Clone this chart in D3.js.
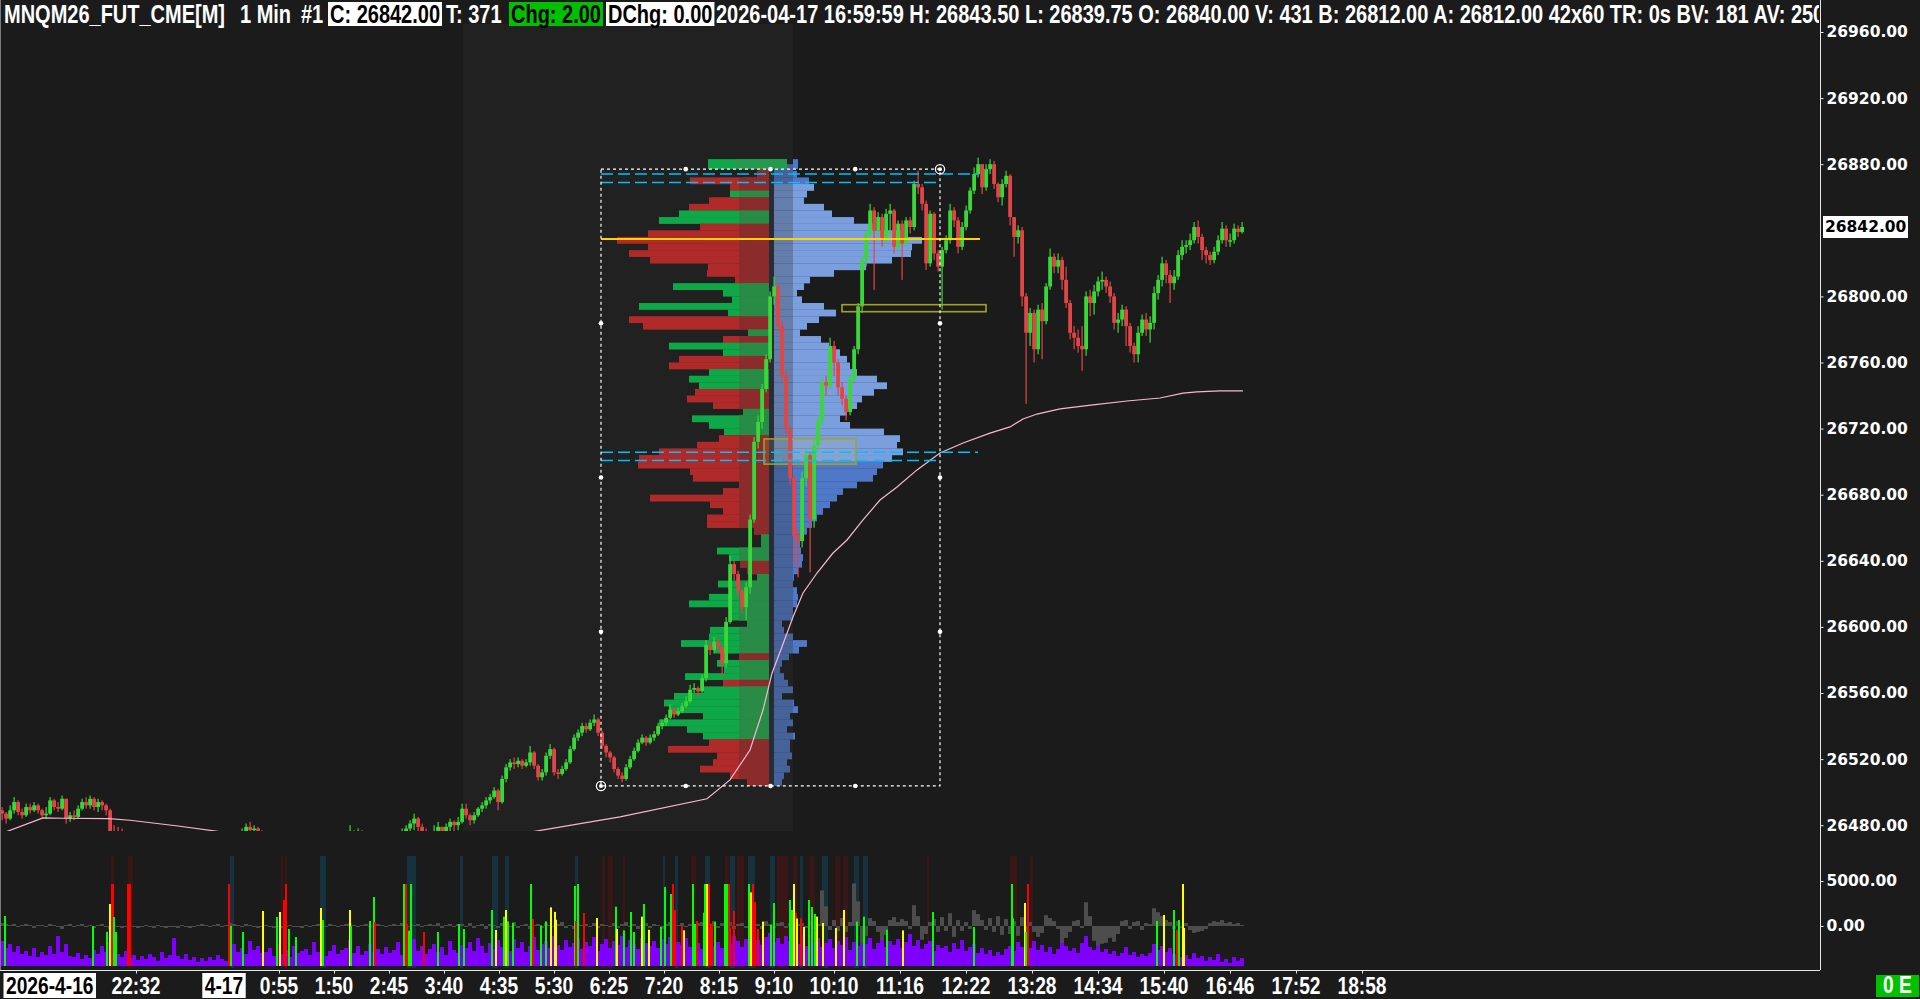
<!DOCTYPE html>
<html><head><meta charset="utf-8"><title>MNQM26_FUT_CME 1 Min</title>
<script src="https://cdn.jsdelivr.net/npm/d3@7/dist/d3.min.js"></script>
<style>html,body{margin:0;padding:0;background:#1b1b1b;overflow:hidden}svg{display:block}</style>
</head><body><svg id="chart" width="1920" height="999"></svg>
<script>
// ================= DATA =================
const headerFields = ["MNQM26_FUT_CME[M]", "1 Min", "#1", "C: 26842.00", "T: 371", "Chg: 2.00", "DChg: 0.00",
  "2026-04-17 16:59:59 H: 26843.50 L: 26839.75 O: 26840.00 V: 431 B: 26812.00 A: 26812.00 42x60 TR: 0s BV: 181 AV: 250"];
const lastPrice = 26842;

const priceTicks = [26480, 26520, 26560, 26600, 26640, 26680, 26720, 26760, 26800, 26880, 26920, 26960];
const oscTicks = [0, 5000];
const timeTickMinutes = [-88, 55, 110, 165, 220, 275, 330, 385, 440, 495, 550, 610, 676, 742, 808, 874, 940, 1006, 1072, 1138];
const timeTickLabels = ["22:32","0:55","1:50","2:45","3:40","4:35","5:30","6:25","7:20","8:15","9:10","10:10","11:16","12:22","13:28","14:34","15:40","16:46","17:52","18:58"];
const dateMarkers = [{t: -224, label: "2026-4-16", start: true}, {t: 0, label: "4-17", start: false}];

// 4-minute bars, first bar starts 224 minutes before 2026-04-17 00:00
const barStartMin = -224, barMinutes = 4, firstOpen = 26489;
const barClose = [
26487,26484,26489,26494,26488,26486,26491,26489,26492,26489,26486,26487,26495,26491,26490,26496,26484,26486,26485,26490,26494,26492,26496,26491,26494,26492,26489,26476,26474,
26472,26470,26466,26463,26461,26464,26466,26462,26460,26458,
26461,26463,26460,26457,26455,26458,26462,26465,26463,26466,
26468,26465,26467,26470,26468,26466,26469,26471,26470,26472,
26473,26476,26479,26477,26478,26474,26471,26468,26466,26463,
26460,26457,26455,26452,26454,26456,26453,26455,26458,26460,
26462,26459,26463,26465,26467,26469,26471,26473,26476,26472,
26475,26473,26470,26468,26466,26468,26470,26469,26471,26472,
26474,26476,26478,26481,26484,26479,26476,26473,26471,26476,
26479,26475,26479,26482,26480,26482,
26490,26486,26483,26486,26490,26492,26495,26497,26501,26494,
26508,26515,26518,26517,26519,26516,26518,26524,26516,26509,
26512,26522,26526,26512,26511,26514,26518,26526,26533,26536,
26540,26538,26542,26544,26536,26528,26524,26521,26514,26510,
26508,26515,26520,26525,26530,26533,26530,26533,26535,26540,
26542,26545,26550,26547,26549,26552,26555,26562,26563,26561,
26569,26589,26586,26591,26588,26578,26603,26638,26632,26622,
26612,26624,26665,26712,26724,26744,26762,26800,26806,26782,
26752,26720,26690,26655,26652,26690,26704,26665,26710,26725,
26748,26746,26770,26760,26745,26738,26730,26750,26768,26794,
26822,26838,26852,26840,26848,26834,26850,26852,26830,26844,
26832,26846,26842,26868,26866,26856,26820,26850,26826,26818,
26828,26834,26852,26846,26830,26842,26852,26864,26874,26880,
26866,26877,26880,26868,26860,26868,26873,26848,26836,26840,
26800,26778,26790,26768,26792,26785,26806,26824,26818,26822,
26810,26796,26778,26775,26770,26768,26800,26796,26803,26809,
26810,26806,26800,26784,26786,26792,26782,26770,26765,26778,
26786,26780,26784,26802,26810,26820,26813,26808,26812,26825,
26830,26831,26834,26842,26836,26828,26825,26822,26827,26834,
26841,26834,26834,26841,26839,26842];
const barHigh = [
26491,26488,26492,26497,26495,26490,26493,26493,26494,26493,26490,26491,26497,26496,26494,26498,26496,26488,26489,26492,26496,26497,26498,26497,26496,26495,26493,26490,26480,
26479,26478,26472,26469,26466,26467,26469,26468,26465,26463,
26464,26467,26465,26462,26459,26461,26465,26468,26468,26469,
26471,26470,26470,26472,26472,26470,26472,26474,26473,26474,
26475,26478,26481,26482,26480,26479,26477,26473,26470,26468,
26465,26462,26460,26457,26458,26459,26458,26458,26461,26463,
26465,26464,26466,26468,26470,26472,26474,26475,26480,26477,
26478,26477,26474,26472,26470,26471,26473,26473,26474,26475,
26476,26478,26480,26483,26487,26485,26481,26478,26475,26480,
26482,26479,26481,26484,26483,26485,
26493,26493,26487,26488,26491,26494,26497,26499,26503,26502,
26510,26517,26520,26521,26521,26520,26520,26528,26525,26517,
26514,26524,26529,26527,26514,26516,26520,26528,26535,26538,
26542,26542,26544,26547,26545,26537,26529,26525,26522,26515,
26512,26517,26522,26527,26532,26535,26534,26535,26537,26542,
26544,26547,26553,26551,26551,26554,26558,26565,26566,26564,
26571,26592,26591,26594,26593,26589,26606,26643,26640,26634,
26623,26627,26668,26715,26728,26747,26765,26803,26812,26808,
26785,26755,26722,26692,26660,26694,26708,26706,26714,26728,
26751,26752,26775,26773,26762,26748,26740,26753,26770,26796,
26825,26840,26856,26854,26851,26850,26853,26856,26853,26846,
26846,26848,26848,26870,26876,26868,26858,26852,26851,26828,
26830,26837,26856,26854,26848,26845,26855,26866,26878,26884,
26880,26880,26883,26882,26869,26871,26876,26874,26848,26843,
26842,26802,26793,26792,26795,26796,26808,26829,26826,26826,
26824,26818,26798,26782,26780,26782,26803,26804,26807,26812,
26815,26812,26809,26802,26790,26795,26794,26784,26772,26782,
26789,26790,26788,26806,26813,26824,26822,26816,26816,26828,
26834,26834,26838,26845,26846,26838,26830,26827,26830,26837,
26845,26843,26838,26844,26843,26845];
const barLow = [
26483,26481,26483,26487,26486,26484,26485,26487,26488,26487,26484,26484,26486,26489,26488,26489,26481,26482,26483,26484,26489,26490,26490,26489,26488,26489,26486,26470,26468,
26466,26465,26462,26459,26457,26458,26461,26459,26456,26454,
26455,26458,26457,26453,26451,26452,26456,26460,26460,26461,
26463,26462,26463,26464,26465,26463,26464,26466,26467,26468,
26469,26471,26473,26474,26473,26470,26468,26465,26462,26460,
26456,26453,26451,26448,26449,26451,26450,26450,26453,26456,
26458,26456,26458,26461,26463,26465,26467,26469,26471,26469,
26470,26469,26466,26464,26462,26464,26466,26465,26467,26468,
26470,26471,26473,26475,26477,26475,26472,26469,26467,26470,
26473,26471,26474,26476,26476,26477,
26481,26484,26480,26481,26485,26488,26490,26493,26496,26489,
26493,26506,26513,26514,26515,26514,26515,26516,26514,26507,
26507,26510,26520,26510,26508,26510,26513,26517,26525,26531,
26534,26536,26537,26540,26534,26526,26521,26518,26512,26508,
26506,26507,26514,26519,26524,26529,26528,26529,26531,26534,
26538,26540,26544,26545,26546,26548,26551,26554,26560,26558,
26560,26567,26583,26584,26585,26570,26575,26602,26628,26618,
26608,26604,26620,26663,26708,26720,26742,26760,26795,26778,
26748,26716,26686,26638,26630,26648,26685,26633,26660,26706,
26722,26740,26744,26752,26740,26734,26725,26728,26748,26765,
26790,26818,26836,26804,26836,26830,26832,26836,26826,26828,
26810,26830,26838,26840,26862,26852,26816,26818,26822,26815,
26792,26826,26832,26842,26826,26828,26840,26850,26862,26872,
26862,26864,26874,26865,26857,26855,26866,26843,26824,26832,
26794,26735,26770,26760,26765,26762,26783,26804,26814,26814,
26804,26793,26774,26768,26766,26755,26764,26788,26789,26800,
26804,26802,26796,26780,26778,26782,26770,26766,26760,26760,
26776,26776,26772,26780,26798,26806,26808,26796,26804,26810,
26822,26826,26828,26832,26832,26822,26820,26819,26820,26825,
26832,26830,26830,26832,26836,26838];

// Per-bar volume (4-minute buckets) and the grey delta oscillator
const barVolume = [
2000,1440,1760,1120,1600,960,1200,800,1440,720,1120,880,1600,960,2400,1120,1760,800,720,1040,560,880,640,1280,960,1600,1120,1920,1440,
960,720,1200,640,880,480,800,560,960,720,400,1120,640,880,2240,800,560,960,480,720,320,640,400,720,480,880,560,400,640,
1760,1120,1440,960,2000,1280,1600,1040,
1120,1440,800,1760,960,1280,720,1600,1040,1200,
1360,880,1920,1120,1520,800,1200,1680,960,1280,
1440,2080,1040,1600,880,1200,1760,1120,1360,960,
1520,1040,1280,1920,880,1440,1120,2160,1200,1600,
960,1360,1760,1120,1520,880,2000,1280,1040,1680,
1440,1920,1200,2240,1600,1040,1840,1360,2080,1520,
1760,1200,2160,1440,1920,1120,1600,2320,1280,1760,
2000,1440,2400,1680,1280,2080,1520,1840,2240,1360,
1920,1600,2320,1200,1760,2160,1440,2000,1680,2400,
1520,2080,1760,1360,2240,1840,1600,2000,1440,2160,
1760,2320,1280,1920,1680,2240,1520,2000,1840,1360,
2080,2480,1600,1920,1440,2240,1760,2400,2000,1520,
2160,1840,2560,2080,1680,2320,2640,1920,2240,1760,
2400,2000,2160,1760,2480,1600,2080,1920,2240,1520,
1840,2160,1440,2000,1680,2320,1280,1920,1600,2080,
1760,2240,1360,1840,2400,1520,2000,1680,2160,1440,
1920,2560,1600,2080,1360,1760,2000,1200,1680,1440,
1600,1120,1840,1360,2080,1200,1520,1760,1040,1440,
960,1280,800,1120,880,1360,1600,1200,1920,1520,
1760,1440,2000,1280,1680,1120,1520,960,1360,2160,
1600,1200,1440,1040,1840,2400,1520,1280,1680,1120,
1360,960,1200,800,1040,1520,880,1120,720,960,
800,1040,1760,1280,1600,1120,1440,960,1200,720,
880,560,1040,640,800,400,720,480,960,320,
560,240,720,400,640];
const barDelta = [
330,220,110,220,-110,110,220,110,-220,110,110,-110,220,110,-110,-330,110,220,-110,110,220,-110,110,-220,110,220,-110,-330,110,
-110,-220,-110,110,-110,-220,-110,110,-110,-220,
110,-110,-220,-110,-110,-220,110,-110,-220,-110,
110,220,110,-110,110,220,-110,110,330,220,
110,-110,220,110,-110,-220,-110,110,-110,-220,
-110,-220,-110,110,-110,-110,-220,110,-110,110,
220,110,-110,220,110,-110,110,220,330,110,
-110,110,220,-110,110,220,110,-110,110,220,
110,330,220,-110,110,220,-110,110,220,110,
330,-220,110,220,-110,220,
220,-110,330,-220,110,220,-330,220,110,-220,
330,220,-110,440,-220,110,220,-330,110,220,
-220,330,110,-110,220,440,-220,110,-330,220,
110,220,-110,330,-220,220,110,-110,330,-220,
220,440,-110,220,-330,110,330,-220,220,110,
-330,220,440,-220,110,330,-110,220,-220,330,
440,-330,220,550,-220,330,-110,440,-330,220,
330,-220,440,-110,220,-330,550,220,-220,330,
440,-220,330,-110,220,
330,-220,550,-330,220,3960,2200,-440,660,-550,880,-660,440,4730,2750,-1870,-1100,880,550,-660,
-1540,-990,660,990,440,770,550,-330,2310,1100,-1540,-880,440,770,-660,990,-550,1430,-1210,660,
-550,440,-330,1760,1320,660,-440,880,-660,1100,-990,770,-880,550,-1100,990,-770,440,-660,-1210,
-770,1210,880,550,-330,-1870,-1320,-660,550,660,-220,2640,1100,-1650,-2200,-1980,-1870,-1320,-1760,-880,
550,660,-330,440,550,-440,330,220,1980,1540,1100,660,440,-330,550,-220,330,-440,-770,-660,
-550,-330,330,550,440,660,330,440,220,330,110];

// Large-trade highlight spikes: minute, volume, kind (r/y/g)
const spikeTimes = [-220,-132,-118,-115,-113,-112,-111,-109,-97,-95,4,6,18,38,52,55,59,61,64,71,96,98,125,126,145,149,150,179,181,182,184,186,199,213,234,239,267,271,279,281,283,288,306,308,316,321,326,330,331,350,351,353,359,372,391,392,399,406,409,417,419,424,436,440,446,448,450,457,459,468,470,472,479,480,482,484,485,487,490,500,502,504,505,509,524,526,528,530,533,538,546,549,565,567,569,571,572,576,579,584,587,590,592,598,611,619,632,639,662,678,708,749,787,788,800,801,803,932,939,949,952,954,958,959];
const spikeValues = [4000,3200,2740,4960,6560,6560,3920,2720,6560,6560,6560,3200,2720,4400,3920,4320,5280,6560,2960,2320,4640,3680,4480,3200,3600,5520,3520,6560,6560,3360,2820,6560,2720,2720,3360,2960,4480,2880,3950,4480,3570,3440,6560,3760,3250,3570,4690,4330,3700,6400,3600,6560,4240,3840,4750,2960,2850,4320,2720,3950,4960,2900,3120,6320,5760,6560,4480,3200,2850,6560,3360,3600,4270,6560,6560,6560,3390,3390,3530,6560,6560,6560,3060,4400,6560,5890,6560,5120,2960,3550,3300,5040,5280,4480,6560,4260,3800,3820,3130,5280,4720,4160,3950,3440,3040,4480,3550,3950,2900,2850,4320,3120,6560,3820,5040,2720,6560,3600,4080,4480,2900,3680,6560,3040];
const spikeKinds = "gggyrrggrrrggygyrrggygygggrgrrggrggggygygggrggyyygrgrygygggygygggrrryggrggyrrrgggrrrgyrrryggggyryrygggyyyygggyggggygrgygrgyyggrg";

// Background highlight columns in the lower pane: [start minute, end minute]
const tealColumns = [[6,9],[96,101],[183,191],[236,238],[268,273],[281,284],[351,353],[439,440],[451,453],[481,485],[506,510],[524,530],[546,550],[576,578],[598,603],[630,634],[639,643]];
const redColumns = [[-113,-111],[-96,-92],[57,58],[61,62],[378,380],[384,388],[399,400],[467,471],[501,504],[513,519],[553,563],[569,572],[585,590],[611,615],[619,623],[703,704],[786,792],[806,808]];

// Session VWAP: [minute, price]
const vwapMinutes = [-218,-181,-161,-115,-94,-46,-3,76,196,276,308,396,483,506,526,539,548,558,569,579,593,609,623,639,656,673,693,716,739,766,786,799,813,836,869,903,936,959,973,996,1019];
const vwapPrices = [26476,26484.4,26484.2,26484,26483,26479.5,26476,26473,26472,26473.5,26476,26485,26496,26507.4,26525.5,26549.7,26572,26588,26606,26620.5,26632.6,26644.7,26652.6,26664.7,26676.8,26684.7,26695,26705.2,26711.3,26717.3,26721,26725.8,26728.8,26731.9,26734.3,26736.7,26738.5,26741.5,26742.2,26742.8,26742.8];

// Volume profile of the selected range (rows of 4 points, top row = 26876-26880)
const profileTopPrice = 26880, profileRowSize = 4;
const profileDelta = [-100,-120,-790,-390,390,-600,-800,900,1100,-690,-1210,-1520,-1210,-1400,-1190,-610,-620,-340,960,460,370,1300,410,-1400,-1260,210,-460,1000,460,-900,-1000,600,800,700,-740,-820,-560,260,770,600,450,-500,-720,-1100,-1300,-1310,-790,-760,-300,-460,-1190,-590,-460,-620,-620,-150,80,80,520,400,-290,-220,120,510,390,600,800,390,390,220,590,600,880,550,-300,520,450,840,-460,650,950,1050,1000,660,1100,820,660,-600,-1010,-520,-560,-690,-390,-220];
const profileVolume = [190,230,350,400,330,300,500,580,800,1000,1300,1480,1380,1370,1180,920,600,360,300,230,280,500,620,450,330,260,470,550,660,730,760,830,1030,1130,1000,880,830,730,660,760,1100,1260,1230,1290,1180,1090,1030,990,830,690,630,560,490,430,380,330,290,260,270,290,280,240,200,190,230,240,230,190,190,80,100,190,330,250,150,80,60,100,140,190,80,200,240,160,190,130,210,160,160,180,130,160,100,80];
const profileSummaryDelta = 790, profileSummaryVolume = 50;
const profileSplitMin = 545;
const rangeStartMin = 377, rangeEndMin = 716, rangeHigh = 26877, rangeLow = 26503.75;
const pocPrice = 26834.75, pocEndMin = 756;
const valueAreaHigh = 26869, valueAreaLow = 26701;
const valueAreaLines = [{price: 26874, end: 754}, {price: 26869, end: 716}, {price: 26705.75, end: 754}, {price: 26700.75, end: 716}];
const zones = [{t0: 618, t1: 762, lo: 26790.75, hi: 26795, fill: "none"}, {t0: 540, t1: 632, lo: 26698.5, hi: 26713.75, fill: "rgba(210,210,150,0.13)"}];
const shadedSpan = [239, 569]; // minutes of the lighter shaded session block

// ================= DRAWING =================
const svg = d3.select("#chart");
const FONT_N = "'Liberation Sans', Arial, sans-serif";
const FONT_AX = "'DejaVu Sans', Verdana, sans-serif";
const NARROW = 0.8;
const xTime = d3.scaleLinear().domain([-224, 1596]).range([0, 1820]);
const yPrice = d3.scaleLinear().domain([26480, 26960]).range([825.2, 32]);
const yVol = d3.scaleLinear().domain([0, 7000]).range([966, 878.5]);
const yOsc = d3.scaleLinear().domain([0, 5000]).range([926, 881]);
const profLen = d3.scaleLinear().domain([0, 1000]).range([0, 100]);
const PANE_TOP = 24, PANE_BOT = 831, LOW_TOP = 856, LOW_BOT = 968;

svg.append("rect").attr("width", 1920).attr("height", 999).attr("fill", "#1b1b1b");
const defs = svg.append("defs");
defs.append("clipPath").attr("id", "cpPrice").append("rect").attr("x", 0).attr("y", PANE_TOP).attr("width", 1820).attr("height", PANE_BOT - PANE_TOP);
defs.append("clipPath").attr("id", "cpLow").append("rect").attr("x", 0).attr("y", 840).attr("width", 1820).attr("height", 130);
defs.append("clipPath").attr("id", "cpHead").append("rect").attr("x", 0).attr("y", 0).attr("width", 1819).attr("height", 40);
defs.append("clipPath").attr("id", "cpYAx").append("rect").attr("x", 1820).attr("y", 0).attr("width", 100).attr("height", PANE_BOT);

// narrow bold text helper (condensed look)
function narrowText(parent, str, x, y, size, fill, anchor) {
  const g = parent.append("g").attr("transform", `translate(${x},${y}) scale(${NARROW},1)`);
  const t = g.append("text").text(str).attr("font-family", FONT_N).attr("font-size", size)
    .attr("font-weight", "bold").attr("fill", fill).attr("text-anchor", anchor || "start");
  return {g, w: t.node().getComputedTextLength() * NARROW};
}

const gP = svg.append("g").attr("clip-path", "url(#cpPrice)");

// ---- volume profile ----
const splitX = xTime(profileSplitMin), volX = xTime(profileSplitMin + 5);
const rows = profileDelta.map((d, i) => {
  const hi = profileTopPrice - i * profileRowSize, lo = hi - profileRowSize;
  return {hi, lo, d, v: profileVolume[i], y0: yPrice(hi), y1: yPrice(lo)};
});
gP.append("rect").attr("x", splitX).attr("width", volX - splitX)
  .attr("y", yPrice(rangeHigh)).attr("height", yPrice(rangeLow) - yPrice(rangeHigh)).attr("fill", "#242a38");
gP.selectAll("rect.vp").data(rows).enter().append("rect").attr("class", "vp")
  .attr("x", volX).attr("y", r => r.y0).attr("height", r => r.y1 - r.y0 + 0.2)
  .attr("width", r => profLen(r.v))
  .attr("fill", r => ((r.hi + r.lo) / 2 <= valueAreaHigh && (r.hi + r.lo) / 2 >= valueAreaLow) ? "#7a9ede" : "#5078c8");
gP.selectAll("rect.dp").data(rows).enter().append("rect").attr("class", "dp")
  .attr("x", r => splitX - profLen(Math.abs(r.d))).attr("y", r => r.y0).attr("height", r => r.y1 - r.y0 + 0.2)
  .attr("width", r => profLen(Math.abs(r.d)))
  .attr("fill", r => r.d >= 0 ? "#01db54" : "#e92727");
gP.selectAll("rect.dpi").data(rows).enter().append("rect").attr("class", "dpi")
  .attr("x", r => splitX - Math.min(profLen(Math.abs(r.d)), 30)).attr("y", r => r.y0).attr("height", r => r.y1 - r.y0 + 0.2)
  .attr("width", r => Math.min(profLen(Math.abs(r.d)), 30))
  .attr("fill", r => r.d >= 0 ? "#24b34f" : "#b32929");
// summary bars above the range
const sumY = yPrice(rangeHigh);
gP.append("rect").attr("x", splitX + 18 - profLen(profileSummaryDelta)).attr("y", sumY - 10).attr("width", profLen(profileSummaryDelta)).attr("height", 10).attr("fill", "#01db54");
gP.append("rect").attr("x", splitX + 18 - profLen(profileSummaryDelta) + 27).attr("y", sumY - 10).attr("width", profLen(profileSummaryDelta) - 27).attr("height", 10).attr("fill", "#1ec75a");
gP.append("rect").attr("x", volX + 19).attr("y", sumY - 10).attr("width", profLen(profileSummaryVolume)).attr("height", 10).attr("fill", "#5078c8");

// lighter shaded session block (overlay)
gP.append("rect").attr("x", xTime(shadedSpan[0])).attr("width", xTime(shadedSpan[1]) - xTime(shadedSpan[0]))
  .attr("y", PANE_TOP).attr("height", PANE_BOT - PANE_TOP).attr("fill", "rgba(50,50,50,0.3)");

// zone 2 (filled) under candles
zones.filter(z => z.fill !== "none").forEach(z => {
  gP.append("rect").attr("x", xTime(z.t0)).attr("width", xTime(z.t1) - xTime(z.t0))
    .attr("y", yPrice(z.hi)).attr("height", yPrice(z.lo) - yPrice(z.hi))
    .attr("fill", z.fill).attr("stroke", "#a3a323").attr("stroke-width", 1.5);
});

// ---- candles ----
const bars = barClose.map((c, i) => {
  const o = i ? barClose[i - 1] : firstOpen;
  return {t: barStartMin + i * barMinutes, o, c, h: Math.max(barHigh[i], o, c), l: Math.min(barLow[i], o, c)};
});
const UP = "#38d838", DN = "#e24545";
gP.selectAll("rect.wick").data(bars).enter().append("rect").attr("class", "wick")
  .attr("x", d => xTime(d.t) + 1.5).attr("width", 1.2)
  .attr("y", d => yPrice(d.h)).attr("height", d => Math.max(1, yPrice(d.l) - yPrice(d.h)))
  .attr("fill", d => d.c >= d.o ? UP : DN);
gP.selectAll("rect.body").data(bars).enter().append("rect").attr("class", "body")
  .attr("x", d => xTime(d.t) + 0.2).attr("width", 3.8)
  .attr("y", d => yPrice(Math.max(d.o, d.c))).attr("height", d => Math.max(1.5, Math.abs(yPrice(d.o) - yPrice(d.c))))
  .attr("fill", d => d.c >= d.o ? UP : DN);

// ---- VWAP ----
gP.append("path").datum(vwapMinutes.map((t, i) => [t, vwapPrices[i]]))
  .attr("d", d3.line().x(d => xTime(d[0])).y(d => yPrice(d[1])))
  .attr("fill", "none").attr("stroke", "#f7b8cf").attr("stroke-width", 1.2);

// ---- lines on top ----
gP.append("line").attr("x1", xTime(rangeStartMin)).attr("x2", xTime(pocEndMin))
  .attr("y1", yPrice(pocPrice)).attr("y2", yPrice(pocPrice)).attr("stroke", "#ffd200").attr("stroke-width", 2.2);
valueAreaLines.forEach(l => {
  gP.append("line").attr("x1", xTime(rangeStartMin)).attr("x2", xTime(l.end))
    .attr("y1", yPrice(l.price)).attr("y2", yPrice(l.price))
    .attr("stroke", "#00bfff").attr("stroke-width", 1.5).attr("stroke-dasharray", "12,5");
});
zones.filter(z => z.fill === "none").forEach(z => {
  gP.append("rect").attr("x", xTime(z.t0)).attr("width", xTime(z.t1) - xTime(z.t0))
    .attr("y", yPrice(z.hi)).attr("height", yPrice(z.lo) - yPrice(z.hi))
    .attr("fill", "none").attr("stroke", "#a3a323").attr("stroke-width", 1.6);
});

// ---- selection box with handles ----
const bx0 = xTime(rangeStartMin), bx1 = xTime(rangeEndMin), by0 = yPrice(rangeHigh), by1 = yPrice(rangeLow);
gP.append("rect").attr("x", bx0).attr("y", by0).attr("width", bx1 - bx0).attr("height", by1 - by0)
  .attr("fill", "none").attr("stroke", "#ffffff").attr("stroke-width", 1.2).attr("stroke-dasharray", "3,3");
const handles = [];
[1, 2, 3].forEach(q => {
  const hx = bx0 + (bx1 - bx0) * q / 4, hy = by0 + (by1 - by0) * q / 4;
  handles.push([hx, by0], [hx, by1], [bx0, hy], [bx1, hy]);
});
gP.selectAll("circle.h").data(handles).enter().append("circle").attr("class", "h")
  .attr("cx", d => d[0]).attr("cy", d => d[1]).attr("r", 2.3).attr("fill", "#fff");
[[bx1, by0], [bx0, by1]].forEach(p => {
  gP.append("circle").attr("cx", p[0]).attr("cy", p[1]).attr("r", 4.6).attr("fill", "none").attr("stroke", "#fff").attr("stroke-width", 1.3);
  gP.append("circle").attr("cx", p[0]).attr("cy", p[1]).attr("r", 2).attr("fill", "#fff");
});

// ================= LOWER PANE =================
const gL = svg.append("g").attr("clip-path", "url(#cpLow)");
gL.selectAll("rect.tc").data(tealColumns).enter().append("rect").attr("class", "tc")
  .attr("x", d => xTime(d[0])).attr("width", d => xTime(d[1]) - xTime(d[0]) + 1)
  .attr("y", LOW_TOP).attr("height", LOW_BOT - LOW_TOP).attr("fill", "#15323e");
gL.selectAll("rect.rc").data(redColumns).enter().append("rect").attr("class", "rc")
  .attr("x", d => xTime(d[0])).attr("width", d => xTime(d[1]) - xTime(d[0]) + 1)
  .attr("y", LOW_TOP).attr("height", LOW_BOT - LOW_TOP).attr("fill", "#3a1616");
gL.selectAll("rect.vol").data(barVolume).enter().append("rect").attr("class", "vol")
  .attr("x", (v, i) => xTime(barStartMin + i * barMinutes)).attr("width", barMinutes)
  .attr("y", v => yVol(v)).attr("height", v => yVol(0) - yVol(v)).attr("fill", "#8000ff");
gL.selectAll("rect.osc").data(barDelta).enter().append("rect").attr("class", "osc")
  .attr("x", (v, i) => xTime(barStartMin + i * barMinutes)).attr("width", barMinutes)
  .attr("y", v => Math.min(yOsc(0), yOsc(v))).attr("height", v => Math.max(1, Math.abs(yOsc(v) - yOsc(0))))
  .attr("fill", "#4d4d4d");
const spikeColor = {r: "#ff0000", y: "#ffff00", g: "#00ff00"};
gL.selectAll("rect.sp").data(spikeTimes).enter().append("rect").attr("class", "sp")
  .attr("x", t => xTime(t)).attr("width", 2)
  .attr("y", (t, i) => yVol(spikeValues[i])).attr("height", (t, i) => yVol(0) - yVol(spikeValues[i]))
  .attr("fill", (t, i) => spikeColor[spikeKinds[i]]);

// ================= AXES =================
svg.append("line").attr("x1", 1820.5).attr("x2", 1820.5).attr("y1", 0).attr("y2", 970).attr("stroke", "#e6e6e6");
svg.append("line").attr("x1", 0.5).attr("x2", 0.5).attr("y1", 0).attr("y2", 970).attr("stroke", "#7a7a7a");

const gYc = svg.append("g").attr("clip-path", "url(#cpYAx)");
const gY = gYc.append("g").attr("transform", "translate(1820.5,0)")
  .call(d3.axisRight(yPrice).tickValues(priceTicks).tickSize(3).tickPadding(3).tickFormat(d3.format(".2f")));
gY.select(".domain").remove();
gY.selectAll("line").attr("stroke", "#e6e6e6");
gY.attr("font-family", FONT_AX).attr("font-size", 15.5).attr("font-weight", "bold");
gY.selectAll("text").attr("fill", "#ffffff");
// current price label
const cpY = yPrice(lastPrice);
svg.append("rect").attr("x", 1823).attr("y", cpY - 11).attr("width", 85).attr("height", 22).attr("fill", "#ffffff");
svg.append("text").attr("x", 1825).attr("y", cpY).attr("dy", "0.35em").text(lastPrice.toFixed(2))
  .attr("font-family", FONT_AX).attr("font-size", 15.5).attr("font-weight", "bold").attr("fill", "#000");

const gO = svg.append("g").attr("transform", "translate(1820.5,0)")
  .call(d3.axisRight(yOsc).tickValues(oscTicks).tickSize(3).tickPadding(3).tickFormat(d3.format(".2f")));
gO.select(".domain").remove();
gO.selectAll("line").attr("stroke", "#e6e6e6");
gO.attr("font-family", FONT_AX).attr("font-size", 15.5).attr("font-weight", "bold");
gO.selectAll("text").attr("fill", "#ffffff");

const gX = svg.append("g").attr("transform", "translate(0,970.5)")
  .call(d3.axisBottom(xTime).tickValues(timeTickMinutes).tickSize(3).tickSizeOuter(0).tickFormat(() => ""));
gX.select(".domain").attr("stroke", "#e6e6e6").attr("d", "M0,0H1820");
gX.selectAll("line").attr("stroke", "#e6e6e6");
gX.selectAll("text").remove();
const gXL = svg.append("g");
timeTickMinutes.forEach((t, i) => narrowText(gXL, timeTickLabels[i], xTime(t), 993.5, 24, "#ffffff", "middle"));

dateMarkers.forEach(m => {
  const holder = svg.append("g");
  let x0, w;
  if (m.start) {
    const r = narrowText(holder, m.label, 6, 993.5, 24, "#000000", "start");
    x0 = 6; w = r.w;
  } else {
    const r = narrowText(holder, m.label, xTime(m.t), 993.5, 24, "#000000", "middle");
    w = r.w; x0 = xTime(m.t) - w / 2;
  }
  holder.insert("rect", ":first-child").attr("x", x0 - 2.5).attr("y", 973).attr("width", w + 5).attr("height", 25).attr("fill", "#ffffff");
});

// "0 E" status box
svg.append("rect").attr("x", 1876).attr("y", 975).attr("width", 43).attr("height", 22).attr("fill", "#00c000");
narrowText(svg, "0 E", 1897.5, 993, 24, "#ffffff", "middle");

// ================= HEADER =================
const gH = svg.append("g").attr("clip-path", "url(#cpHead)");
const headerStyle = [
  {x: 4}, {x: 240}, {x: 301},
  {x: 330, bg: "#ffffff", fg: "#000"}, {x: 446},
  {x: 511, bg: "#00c000", fg: "#000"}, {x: 608, bg: "#ffffff", fg: "#000"}, {x: 716}];
headerFields.forEach((s, i) => {
  const st = headerStyle[i];
  const holder = gH.append("g");
  const r = narrowText(holder, s, st.x, 23, 25, st.fg || "#ffffff", "start");
  if (st.bg) holder.insert("rect", ":first-child").attr("x", st.x - 2).attr("y", 2).attr("width", r.w + 4).attr("height", 24).attr("fill", st.bg);
});
</script></body></html>
